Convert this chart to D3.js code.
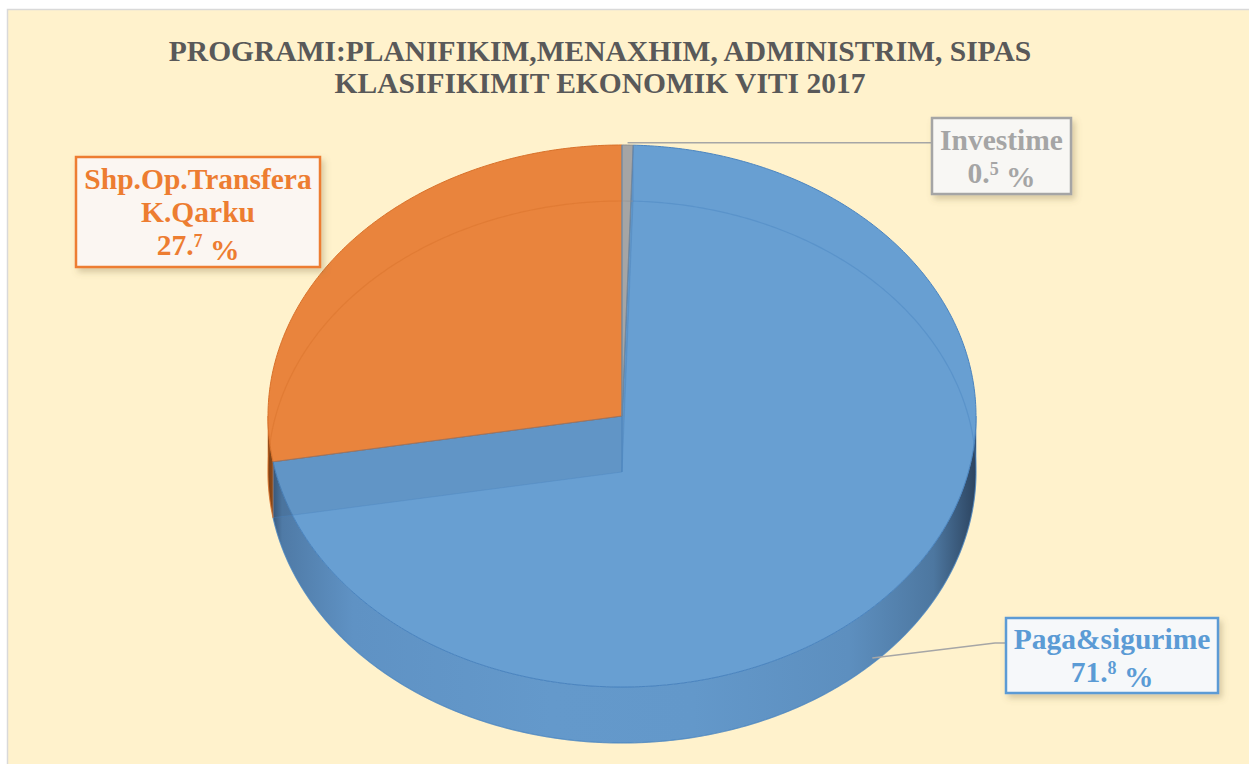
<!DOCTYPE html>
<html>
<head>
<meta charset="utf-8">
<script src="https://cdnjs.cloudflare.com/ajax/libs/d3/7.8.5/d3.min.js"></script>
<style>
  html, body { margin: 0; padding: 0; background: #ffffff; }
  svg { display: block; }
  text { font-family: "Liberation Serif", "Times New Roman", serif; font-weight: bold; }
</style>
</head>
<body>
<div class="chartContainer"></div>
<script>
// data
var categories  = ["Paga&sigurime", "Shp.Op.Transfera K.Qarku", "Investime"];
var labelLines  = [["Paga&sigurime"], ["Shp.Op.Transfera", "K.Qarku"], ["Investime"]];
var values      = [71.8, 27.7, 0.5];
var titleLines  = ["PROGRAMI:PLANIFIKIM,MENAXHIM, ADMINISTRIM, SIPAS",
                   "KLASIFIKIMIT EKONOMIK VITI 2017"];

var width = 1249, height = 764;
var firstSliceAngle = 1.8; // degrees, like excel's "angle of first slice"

var color = d3.scaleOrdinal()
    .domain(categories)
    .range(["#689fd2", "#e9843d", "#a5a5a5"]);
var textColor = d3.scaleOrdinal()
    .domain(categories)
    .range(["#5b9bd5", "#ed7d31", "#a5a5a5"]);
var edgeColor = d3.scaleOrdinal()
    .domain(categories)
    .range(["#4a84c0", "#d8712a", "#8f8f8f"]);

// ellipse of the pie top
var cx = 622, cy = 416, rx = 354, ry = 271, depth = 56;

function px(a) { return cx + rx * Math.sin(a); }
function py(a, z) { return cy - ry * Math.cos(a) + (z || 0); }

function rim(a0, a1, z) {
    var n = Math.max(2, Math.ceil(Math.abs(a1 - a0) / 0.01));
    return d3.range(n + 1).map(function (i) {
        var a = a0 + (a1 - a0) * i / n;
        return [px(a), py(a, z)];
    });
}

var line = d3.line();

var canvas = d3.select(".chartContainer")
    .append("svg")
    .attr("width", width)
    .attr("height", height);

var defs = canvas.append("defs");

var shadow = defs.append("filter")
    .attr("id", "boxShadow")
    .attr("x", "-20%").attr("y", "-20%")
    .attr("width", "140%").attr("height", "150%");
shadow.append("feDropShadow")
    .attr("dx", 3).attr("dy", 4)
    .attr("stdDeviation", 3)
    .attr("flood-color", "#7a6a40")
    .attr("flood-opacity", 0.3);

// side gradients, darker toward the left and right ends
var sideStops = {
    "Paga&sigurime": ["#2f4a68", "#4f7aa6", "#5f92c4", "#6499cb", "#6398ca", "#5d8fbf", "#4d77a0", "#2c4460"],
    "Shp.Op.Transfera K.Qarku": ["#7a3f15", "#b5611f", "#d9772f", "#e2803a", "#e2803a", "#d9772f", "#b5611f", "#7a3f15"],
    "Investime": ["#6b6b6b", "#8a8a8a", "#9c9c9c", "#a3a3a3", "#a3a3a3", "#9c9c9c", "#8a8a8a", "#6b6b6b"]
};
var stopOffsets = [0, 0.02, 0.12, 0.4, 0.6, 0.82, 0.94, 1];
categories.forEach(function (c, i) {
    var g = defs.append("linearGradient")
        .attr("id", "side" + i)
        .attr("gradientUnits", "userSpaceOnUse")
        .attr("x1", cx - rx).attr("x2", cx + rx)
        .attr("y1", 0).attr("y2", 0);
    g.selectAll("stop")
        .data(sideStops[c])
        .enter().append("stop")
        .attr("offset", function (d, j) { return stopOffsets[j]; })
        .attr("stop-color", function (d) { return d; });
});

// chart area
canvas.append("rect")
    .attr("x", 7.5).attr("y", 9.5)
    .attr("width", width).attr("height", height)
    .attr("fill", "#fff2cc")
    .attr("stroke", "#d9d9d9")
    .attr("stroke-width", 1.5);

// title
canvas.append("text")
    .attr("x", 600)
    .attr("text-anchor", "middle")
    .attr("fill", "#595959")
    .style("font-size", "29.5px")
    .selectAll("tspan")
    .data(titleLines)
    .enter().append("tspan")
    .attr("x", 600)
    .attr("y", function (d, i) { return 61 + i * 32; })
    .text(function (d) { return d; });

var pie = d3.pie()
    .sort(null)
    .value(function (d) { return d; })
    .startAngle(firstSliceAngle * Math.PI / 180)
    .endAngle(firstSliceAngle * Math.PI / 180 + 2 * Math.PI);

var slices = pie(values).map(function (d, i) {
    d.cat = categories[i];
    d.index = i;
    return d;
});

var pieGroup = canvas.append("g");

// outer side, only the front half (angles between 90 and 270 degrees)
slices.forEach(function (d) {
    var TAU = 2 * Math.PI;
    [0, -TAU].forEach(function (shift) {
        var s = Math.max(d.startAngle + shift, Math.PI / 2);
        var e = Math.min(d.endAngle + shift, 3 * Math.PI / 2);
        if (e <= s) return;
        var pts = rim(s, e, 0).concat(rim(e, s, depth));
        pieGroup.append("path")
            .attr("d", line(pts) + "Z")
            .attr("fill", "url(#side" + d.index + ")")
            .attr("stroke", edgeColor(d.cat))
            .attr("stroke-width", 0.6);
    });
});

// top faces
pieGroup.selectAll(".top")
    .data(slices)
    .enter()
    .append("path")
    .attr("class", "top")
    .attr("d", function (d) {
        return line([[cx, cy]].concat(rim(d.startAngle, d.endAngle, 0))) + "Z";
    })
    .attr("fill", function (d) { return color(d.cat); })
    .attr("stroke", function (d) { return edgeColor(d.cat); })
    .attr("stroke-width", 1);

// hidden walls and bottom rim show faintly through the top
pieGroup.selectAll(".wall")
    .data(slices)
    .enter()
    .append("path")
    .attr("class", "wall")
    .attr("d", function (d) {
        var a = d.startAngle;
        return line([[cx, cy], [px(a), py(a, 0)], [px(a), py(a, depth)], [cx, cy + depth]]) + "Z";
    })
    .attr("fill", "#1f3550")
    .attr("fill-opacity", 0.09)
    .attr("stroke", "#4a84c0")
    .attr("stroke-opacity", 0.35);

pieGroup.selectAll(".ghost")
    .data(slices)
    .enter()
    .append("path")
    .attr("class", "ghost")
    .attr("d", function (d) { return line(rim(d.startAngle, d.endAngle, depth)); })
    .attr("fill", "none")
    .attr("stroke", function (d) { return edgeColor(d.cat); })
    .attr("stroke-opacity", 0.45)
    .attr("stroke-width", 1.2);

// data labels
var labelBoxes = [
    { x: 1006, y: 618, w: 212, h: 75, fill: "#f6f8fa", anchorAngle: 135, anchorZ: 0.9, elbow: [995, 643] },
    { x: 76,   y: 157, w: 244, h: 110, fill: "#fbf6f2", anchorAngle: null },
    { x: 932,  y: 118, w: 139, h: 76, fill: "#f8f7f4", anchorAngle: "mid", anchorZ: -0.04, elbow: null }
];

var fmt = d3.format(".1f");

slices.forEach(function (d, i) {
    var b = labelBoxes[i];
    // leader line
    if (b.anchorAngle !== null) {
        var a = b.anchorAngle === "mid" ? (d.startAngle + d.endAngle) / 2 : b.anchorAngle * Math.PI / 180;
        var start = [px(a), py(a, depth * b.anchorZ)];
        var pts = [start];
        if (b.elbow) pts.push(b.elbow);
        pts.push([b.x, b.elbow ? b.elbow[1] : start[1]]);
        canvas.append("path")
            .attr("d", line(pts))
            .attr("fill", "none")
            .attr("stroke", "#a6a6a6")
            .attr("stroke-width", 1.5);
    }

    var g = canvas.append("g");
    g.append("rect")
        .attr("x", b.x).attr("y", b.y)
        .attr("width", b.w).attr("height", b.h)
        .attr("fill", b.fill)
        .attr("stroke", textColor(d.cat))
        .attr("stroke-width", 2.5)
        .attr("filter", "url(#boxShadow)");

    var lines = labelLines[i];
    var n = lines.length + 1;
    var lineH = 33;
    var midX = b.x + b.w / 2;
    var firstBase = b.y + b.h / 2 - (n - 1) * lineH / 2 + 10;

    var t = g.append("text")
        .attr("text-anchor", "middle")
        .attr("fill", textColor(d.cat))
        .style("font-size", "29.5px");
    lines.forEach(function (l, j) {
        t.append("tspan")
            .attr("x", midX)
            .attr("y", firstBase + j * lineH)
            .text(l);
    });
    // value line, decimal digit raised like the original
    var parts = fmt(d.data).split(".");
    var vt = g.append("text")
        .attr("x", midX)
        .attr("y", firstBase + lines.length * lineH)
        .attr("text-anchor", "middle")
        .attr("fill", textColor(d.cat))
        .style("font-size", "29.5px");
    vt.append("tspan").text(parts[0] + ".");
    vt.append("tspan")
        .attr("dy", "-0.42em")
        .style("font-size", "18px")
        .text(parts[1]);
    vt.append("tspan")
        .attr("dy", "0.42em")
        .text("\u00a0%");
});
</script>
</body>
</html>
